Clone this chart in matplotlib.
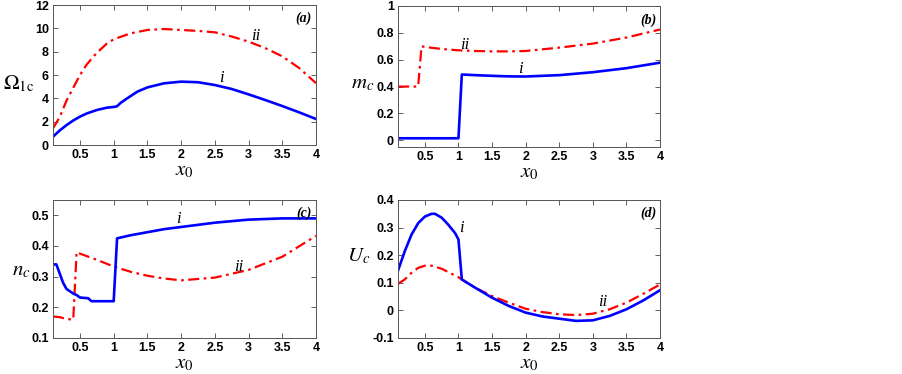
import matplotlib
matplotlib.use("Agg")
import matplotlib.pyplot as plt

plt.rcParams['mathtext.fontset'] = 'stix'
plt.rcParams['font.family'] = 'Liberation Sans'

# panel (a): Omega_1c
a_x_i = [0.1, 0.2, 0.3, 0.4, 0.5, 0.6, 0.75, 0.9, 1.0, 1.05, 1.1, 1.2, 1.35, 1.5, 1.75,
         2.0, 2.25, 2.5, 2.75, 3.0, 3.25, 3.5, 3.75, 4.0]
a_y_i = [0.71, 1.25, 1.7, 2.1, 2.43, 2.7, 3.0, 3.2, 3.26, 3.32, 3.6, 4.0, 4.57, 4.94, 5.29,
         5.43, 5.38, 5.14, 4.8, 4.34, 3.85, 3.34, 2.8, 2.23]
a_x_ii = [0.1, 0.2, 0.3, 0.4, 0.5, 0.6, 0.75, 0.9, 1.0, 1.25, 1.5, 1.75, 2.0, 2.25, 2.5,
          2.75, 3.0, 3.25, 3.5, 3.75, 4.0]
a_y_ii = [1.43, 2.4, 3.8, 4.9, 6.0, 6.9, 7.9, 8.7, 9.06, 9.57, 9.86, 9.94, 9.86, 9.78, 9.66,
          9.3, 8.86, 8.3, 7.6, 6.6, 5.3]

# panel (b): m_c
b_x_i = [0.1, 1.0, 1.05, 1.25, 1.5, 1.75, 2.0, 2.5, 3.0, 3.5, 4.0]
b_y_i = [0.015, 0.015, 0.49, 0.485, 0.48, 0.476, 0.475, 0.485, 0.507, 0.537, 0.578]
b_x_ii = [0.1, 0.4, 0.45, 0.5, 0.75, 1.0, 1.25, 1.5, 1.75, 2.0, 2.5, 3.0, 3.5, 4.0]
b_y_ii = [0.4, 0.4, 0.7, 0.695, 0.68, 0.67, 0.665, 0.662, 0.662, 0.665, 0.69, 0.72, 0.765, 0.825]

# panel (c): n_c
c_x_i = [0.1, 0.15, 0.2, 0.25, 0.3, 0.4, 0.45, 0.5, 0.6, 0.62, 0.67, 1.0, 1.05, 1.25, 1.5,
         1.75, 2.0, 2.5, 3.0, 3.5, 4.0]
c_y_i = [0.34, 0.34, 0.31, 0.28, 0.26, 0.245, 0.24, 0.232, 0.23, 0.23, 0.22, 0.22, 0.425,
         0.435, 0.445, 0.455, 0.462, 0.476, 0.486, 0.49, 0.49]
c_x_ii = [0.1, 0.2, 0.3, 0.4, 0.45, 0.5, 0.75, 1.0, 1.25, 1.5, 1.75, 2.0, 2.5, 3.0, 3.5, 4.0]
c_y_ii = [0.17, 0.168, 0.162, 0.16, 0.38, 0.375, 0.355, 0.333, 0.316, 0.303, 0.294, 0.288,
          0.297, 0.322, 0.365, 0.433]

# panel (d): U_c
d_x_i = [0.1, 0.2, 0.3, 0.4, 0.5, 0.6, 0.65, 0.75, 0.85, 0.95, 1.0, 1.05, 1.25, 1.5, 1.75,
         2.0, 2.25, 2.5, 2.75, 3.0, 3.25, 3.5, 3.75, 4.0]
d_y_i = [0.144, 0.214, 0.274, 0.316, 0.34, 0.35, 0.35, 0.336, 0.31, 0.28, 0.257, 0.112, 0.082,
         0.046, 0.016, -0.008, -0.022, -0.03, -0.038, -0.036, -0.02, 0.004, 0.036, 0.073]
d_x_ii = [0.1, 0.2, 0.3, 0.4, 0.5, 0.6, 0.75, 1.0, 1.25, 1.5, 1.75, 2.0, 2.25, 2.5, 2.75,
          3.0, 3.25, 3.5, 3.75, 4.0]
d_y_ii = [0.096, 0.112, 0.136, 0.154, 0.162, 0.162, 0.151, 0.12, 0.082, 0.052, 0.028, 0.006,
          -0.006, -0.014, -0.017, -0.012, 0.004, 0.028, 0.06, 0.094]

x_ticks = [0.5, 1, 1.5, 2, 2.5, 3, 3.5, 4]
x_tick_labels = ['0.5', '1', '1.5', '2', '2.5', '3', '3.5', '4']

panels = [
    dict(rect=[53/902, 1-145/374, 263/902, 140/374], xi=a_x_i, yi=a_y_i, xii=a_x_ii, yii=a_y_ii,
         ylim=(0, 12), yticks=[0, 2, 4, 6, 8, 10, 12], ylabel=r'$\Omega_{\rm 1c}$',
         lab=(-0.13, 0.44), tag='(a)', ipos=(2.6, 5.75), iipos=(3.1, 9.3)),
    dict(rect=[398/902, 1-147/374, 262/902, 141/374], xi=b_x_i, yi=b_y_i, xii=b_x_ii, yii=b_y_ii,
         ylim=(-0.05, 1), yticks=[0, 0.2, 0.4, 0.6, 0.8, 1], ylabel=r'$m_c$',
         lab=(-0.135, 0.45), tag='(b)', ipos=(1.92, 0.53), iipos=(1.1, 0.71)),
    dict(rect=[53/902, 1-338/374, 263/902, 138/374], xi=c_x_i, yi=c_y_i, xii=c_x_ii, yii=c_y_ii,
         ylim=(0.1, 0.55), yticks=[0.1, 0.2, 0.3, 0.4, 0.5], ylabel=r'$n_c$',
         lab=(-0.12, 0.49), tag='(c)', ipos=(1.96, 0.488), iipos=(2.85, 0.332)),
    dict(rect=[398/902, 1-338/374, 262/902, 138/374], xi=d_x_i, yi=d_y_i, xii=d_x_ii, yii=d_y_ii,
         ylim=(-0.1, 0.4), yticks=[-0.1, 0, 0.1, 0.2, 0.3, 0.4], ylabel=r'$U_c$',
         lab=(-0.15, 0.59), tag='(d)', ipos=(1.05, 0.3), iipos=(3.15, 0.03)),
]

fig = plt.figure(figsize=(9.02, 3.74), dpi=100)

for p in panels:
    ax = fig.add_axes(p['rect'])
    ax.plot(p['xii'], p['yii'], color='#ff0000', lw=1.6, dashes=(5, 2, 1.2, 2))
    ax.plot(p['xi'], p['yi'], color='#0000ff', lw=1.9)
    ax.set_xlim(0.1, 4)
    ax.set_ylim(*p['ylim'])
    ax.set_xticks(x_ticks)
    ax.set_xticklabels(x_tick_labels)
    ax.set_yticks(p['yticks'])
    ax.set_yticklabels(['%g' % v for v in p['yticks']])
    ax.tick_params(direction='in', top=True, right=True, length=3.5, width=0.6,
                   color='#444444', labelsize=9, pad=3)
    for lbl in ax.get_xticklabels() + ax.get_yticklabels():
        lbl.set_fontweight('bold')
    for s in ax.spines.values():
        s.set_color('#555555')
        s.set_linewidth(0.7)
    ax.set_xlabel(r'$x_{\mathit{0}}$', fontsize=15, labelpad=0)
    ax.set_ylabel(p['ylabel'], fontsize=15, rotation=0, va='center', ha='center')
    ax.yaxis.set_label_coords(*p['lab'])
    ax.text(0.985, 0.95, p['tag'], transform=ax.transAxes, ha='right', va='top',
            family='Liberation Serif', style='italic', weight='bold', fontsize=10)
    ax.text(p['ipos'][0], p['ipos'][1], 'i', family='Liberation Serif', style='italic',
            fontsize=12, ha='center', va='center')
    ax.text(p['iipos'][0], p['iipos'][1], 'ii', family='Liberation Serif', style='italic',
            fontsize=12, ha='center', va='center')

fig.savefig('out.png', dpi=100)
